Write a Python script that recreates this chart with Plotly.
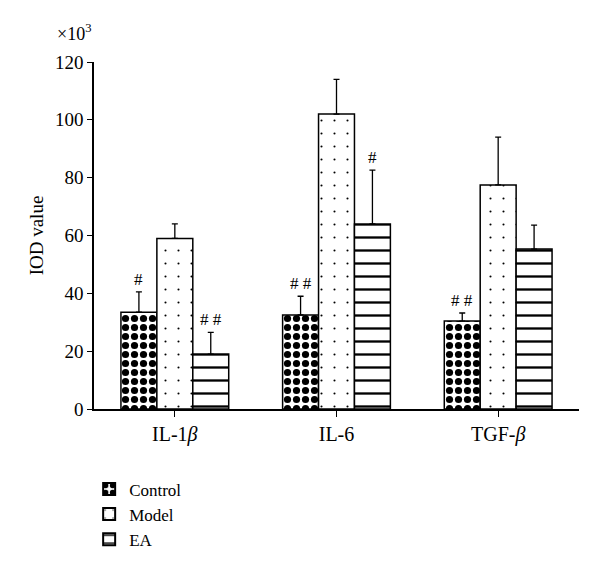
import plotly.graph_objects as go

categories = ["IL-1β", "IL-6", "TGF-β"]
tick_labels = ["IL-1<i>β</i>", "IL-6", "TGF-<i>β</i>"]
series_names = ["Control", "Model", "EA"]
control_vals = [33.5, 32.5, 30.4]
model_vals = [59.0, 102.0, 77.5]
ea_vals = [19.0, 64.0, 55.3]
control_err = [7.0, 6.5, 2.8]
model_err = [5.0, 12.0, 16.5]
ea_err = [7.5, 18.6, 8.3]
control_sig = ["#", "# #", "# #"]
model_sig = ["", "", ""]
ea_sig = ["# #", "#", ""]
y_ticks = [0, 20, 40, 60, 80, 100, 120]

FONT = "Liberation Serif"
values = [control_vals, model_vals, ea_vals]
errors = [control_err, model_err, ea_err]
sigs = [control_sig, model_sig, ea_sig]
patterns = [
    dict(shape=".", size=9, solidity=0.5, fgcolor="black", bgcolor="white", fillmode="replace"),
    dict(shape=".", size=13, solidity=0.02, fgcolor="black", bgcolor="white", fillmode="replace"),
    dict(shape="-", size=13, solidity=0.18, fgcolor="black", bgcolor="white", fillmode="replace"),
]

bargap = 1 / 3
bar_w = (1 - bargap) / 3

fig = go.Figure()
for j, name in enumerate(series_names):
    fig.add_trace(go.Bar(
        name=name,
        x=list(range(len(categories))),
        y=values[j],
        marker=dict(color="white", line=dict(color="black", width=1.5), pattern=patterns[j]),
        error_y=dict(type="data", symmetric=False, array=errors[j],
                     arrayminus=[0] * len(errors[j]), color="black", thickness=1.3, width=3),
    ))

annotations = []
for j in range(3):
    for i in range(len(categories)):
        if sigs[j][i]:
            annotations.append(dict(
                x=i + (j - 1) * bar_w, y=values[j][i] + errors[j][i],
                xref="x", yref="y", text=sigs[j][i], showarrow=False,
                yanchor="bottom", yshift=1, font=dict(family=FONT, size=17, color="black"),
            ))
annotations.append(dict(
    x=0, y=1.045, xref="paper", yref="paper", text="×10<sup>3</sup>", showarrow=False,
    xanchor="right", yanchor="bottom", xshift=-1, font=dict(family=FONT, size=18, color="black"),
))

fig.update_layout(
    width=600, height=576,
    margin=dict(l=86, r=29, t=54, b=175),
    paper_bgcolor="white", plot_bgcolor="white",
    barmode="group", bargap=bargap, bargroupgap=0,
    font=dict(family=FONT, size=19, color="black"),
    xaxis=dict(
        tickmode="array", tickvals=list(range(len(categories))), ticktext=tick_labels,
        range=[-0.5, len(categories) - 0.5], tickson="boundaries",
        ticks="outside", ticklen=6, tickwidth=1.3, tickcolor="black",
        showline=True, linecolor="black", linewidth=1.5, showgrid=False, zeroline=False,
        tickfont=dict(family=FONT, size=20),
    ),
    yaxis=dict(
        range=[0, 120], tickvals=y_ticks, ticks="outside", ticklen=5, tickwidth=1.3,
        tickcolor="black", showline=True, linecolor="black", linewidth=1.5,
        showgrid=False, zeroline=False, tickfont=dict(family=FONT, size=19),
        title=dict(text="IOD value", font=dict(family=FONT, size=19), standoff=6),
    ),
    legend=dict(
        x=-0.01, y=-0.18, xanchor="left", yanchor="top", orientation="v",
        font=dict(family=FONT, size=17), itemsizing="constant", tracegroupgap=0,
        bgcolor="rgba(0,0,0,0)",
    ),
    annotations=annotations,
    showlegend=True,
)

fig.write_html("out.html")
